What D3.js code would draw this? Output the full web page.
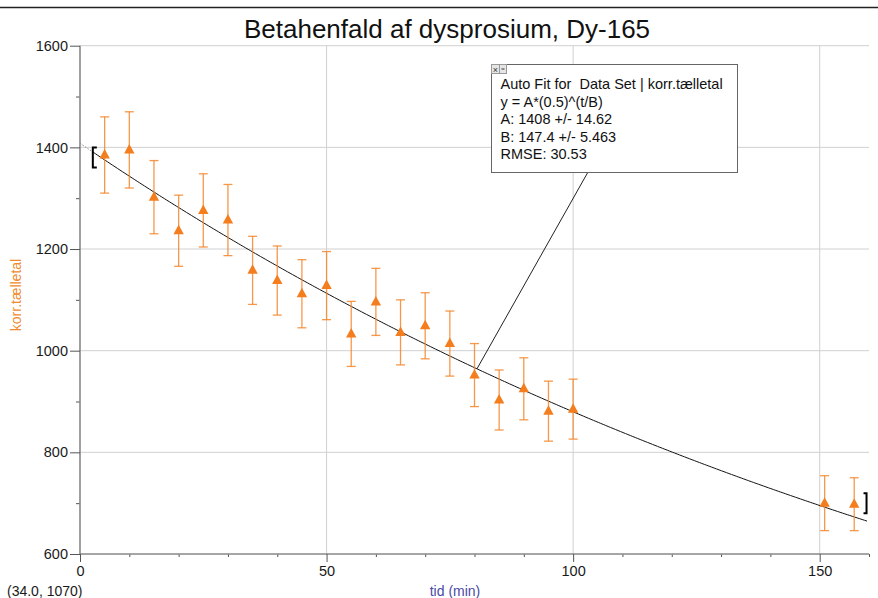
<!DOCTYPE html>
<html>
<head>
<meta charset="utf-8">
<script src="https://cdn.jsdelivr.net/npm/d3@7"></script>
<style>
html,body{margin:0;padding:0;background:#fff;}
svg{display:block;font-family:"Liberation Sans",Arial,sans-serif;}
</style>
</head>
<body>
<svg id="chart" width="878" height="598"></svg>
<script>
// ---- data ----
const time   = [5,10,15,20,25,30,35,40,45,50,55,60,65,70,75,80,85,90,95,100,151,157];
const counts = [1385,1395,1302,1236,1276,1257,1158,1138,1112,1128,1033,1096,1036,1049,1014,952,903,925,881,885,700,698];
const errors = [75,75,72,70,72,70,67,68,67,67,64,66,64,65,64,62,59,61,59,59,54,52];
const fitParams = [1408, 147.4];          // A, B in y = A*(0.5)^(t/B)
const fitRange  = [2.6, 159.5];           // fit region brackets (t)
const bracketY  = [1380, 700];            // bracket centre values
const xMajor = [0, 50, 100, 150];
const yMajor = [600, 800, 1000, 1200, 1400, 1600];
const boxLines = ["Auto Fit for  Data Set | korr.tælletal","y = A*(0.5)^(t/B)","A: 1408 +/- 14.62","B: 147.4 +/- 5.463","RMSE: 30.53"];
const titleText = "Betahenfald af dysprosium, Dy-165";

const svg = d3.select("#chart");
const x = d3.scaleLinear().domain([0,160]).range([80,869]);
const y = d3.scaleLinear().domain([600,1600]).range([554,45.7]);

// top separator line
svg.append("line").attr("x1",0).attr("x2",878).attr("y1",7.5).attr("y2",7.5)
  .attr("stroke","#222").attr("stroke-width",1.5);

// title
svg.append("text").attr("x",447).attr("y",38).attr("text-anchor","middle")
  .attr("font-size",26).attr("fill","#111").text(titleText);

// grid
const grid = svg.append("g");
grid.selectAll("line.h").data(yMajor.filter(d=>d>600)).join("line")
  .attr("x1",x(0)).attr("x2",x(160)).attr("y1",d=>y(d)).attr("y2",d=>y(d))
  .attr("stroke","#d0d0d0").attr("stroke-width",1);
grid.selectAll("line.v").data(xMajor.filter(d=>d>0)).join("line")
  .attr("x1",d=>x(d)).attr("x2",d=>x(d)).attr("y1",y(1600)).attr("y2",y(600))
  .attr("stroke","#d0d0d0").attr("stroke-width",1);

// axes
const yAxis = d3.axisLeft(y).tickValues(yMajor).tickSize(10).tickPadding(2).tickFormat(d3.format("d"));
const yMinor = d3.axisLeft(y).tickValues(d3.range(700,1600,200)).tickSize(4).tickFormat("");
const xAxis = d3.axisBottom(x).tickValues(xMajor).tickSize(8).tickPadding(4).tickFormat(d3.format("d"));
const xMinor = d3.axisBottom(x).tickValues(d3.range(10,161,10).filter(d=>d%50!==0)).tickSize(3).tickFormat("");

function styleAxis(g){
  g.select(".domain").attr("stroke","#888").attr("stroke-width",1.6);
  g.selectAll(".tick line").attr("stroke","#555").attr("stroke-width",1);
  g.selectAll(".tick text").attr("fill","#1a1a1a").attr("font-size",14.5)
    .attr("font-family","'Liberation Sans',Arial,sans-serif");
}
svg.append("g").attr("transform",`translate(${x(0)},0)`).call(yMinor).call(g=>{g.select(".domain").remove();g.selectAll("line").attr("stroke","#555");});
svg.append("g").attr("transform",`translate(0,${y(600)})`).call(xMinor).call(g=>{g.select(".domain").remove();g.selectAll("line").attr("stroke","#555");});
svg.append("g").attr("transform",`translate(${x(0)},0)`).call(yAxis).call(styleAxis)
  .call(g=>g.select(".domain").attr("d",`M0,${y(600)}V${y(1600)}`));
svg.append("g").attr("transform",`translate(0,${y(600)})`).call(xAxis).call(styleAxis)
  .call(g=>g.select(".domain").attr("d",`M${x(0)},0H${x(160)}`));

// axis labels
svg.append("text").attr("transform","translate(21,295) rotate(-90)").attr("text-anchor","middle")
  .attr("font-size",14).attr("fill","#f08a30").text("korr.tælletal");
svg.append("text").attr("x",455).attr("y",596).attr("text-anchor","middle")
  .attr("font-size",14).attr("fill","#4a4aa8").text("tid (min)");
svg.append("text").attr("x",7).attr("y",596)
  .attr("font-size",14).attr("fill","#1a1a1a").text("(34.0, 1070)");

// fit curve
const [A,B] = fitParams;
const f = t => A*Math.pow(0.5, t/B);
const line = d3.line().x(d=>x(d)).y(d=>y(f(d)));
svg.append("path").attr("d",line(d3.range(0,fitRange[0]+0.01,0.2)))
  .attr("fill","none").attr("stroke","#888").attr("stroke-width",1).attr("stroke-dasharray","1.5,1.5");
svg.append("path").attr("d",line(d3.range(fitRange[0],160.01,0.5)))
  .attr("fill","none").attr("stroke","#111").attr("stroke-width",1);

// brackets
const bl = x(fitRange[0]), br = x(fitRange[1]);
svg.append("path").attr("d",`M${bl+4},${y(bracketY[0])-10}H${bl}V${y(bracketY[0])+10}H${bl+4}`)
  .attr("fill","none").attr("stroke","#000").attr("stroke-width",2);
svg.append("path").attr("d",`M${br-3},${y(bracketY[1])-10}H${br}V${y(bracketY[1])+10}H${br-3}`)
  .attr("fill","none").attr("stroke","#000").attr("stroke-width",2);

// error bars
const eg = svg.append("g").attr("stroke","#f5862a").attr("stroke-width",1.3).attr("stroke-opacity",0.85);
time.forEach((t,i)=>{
  const cx = x(t), y1 = y(counts[i]+errors[i]), y2 = y(counts[i]-errors[i]);
  eg.append("line").attr("x1",cx).attr("x2",cx).attr("y1",y1).attr("y2",y2);
  eg.append("line").attr("x1",cx-4.5).attr("x2",cx+4.5).attr("y1",y1).attr("y2",y1);
  eg.append("line").attr("x1",cx-4.5).attr("x2",cx+4.5).attr("y1",y2).attr("y2",y2);
});

// triangle markers
svg.append("g").selectAll("path").data(time).join("path")
  .attr("transform",(d,i)=>`translate(${x(d)},${y(counts[i])})`)
  .attr("d","M0,-6L5.2,3.5L-5.2,3.5Z").attr("fill","#f47d1e");

// annotation box
const bx = 491, by = 64, bw = 246, bh = 108;
const leadT = 80.5;
svg.append("line").attr("x1",x(leadT)).attr("y1",y(f(leadT))).attr("x2",588).attr("y2",by+bh)
  .attr("stroke","#222").attr("stroke-width",1);
svg.append("rect").attr("x",bx+0.5).attr("y",by+0.5).attr("width",bw).attr("height",bh)
  .attr("fill","#fff").attr("stroke","#666").attr("stroke-width",1);
// small icons
svg.append("rect").attr("x",bx+0.5).attr("y",by+0.5).attr("width",8).attr("height",9)
  .attr("fill","#e6e6e6").attr("stroke","#999");
svg.append("text").attr("x",bx+4.5).attr("y",by+8.5).attr("text-anchor","middle").attr("font-size",9).attr("fill","#333").text("×");
svg.append("rect").attr("x",bx+8.5).attr("y",by+0.5).attr("width",7).attr("height",9)
  .attr("fill","#e6e6e6").attr("stroke","#999");
svg.append("line").attr("x1",bx+10.5).attr("x2",bx+13.5).attr("y1",by+5).attr("y2",by+5).attr("stroke","#333");
svg.append("g").selectAll("text").data(boxLines).join("text")
  .attr("x",500.5).attr("y",(d,i)=>89.3+i*17.4)
  .attr("font-size",14.5).attr("fill","#111").style("white-space","pre").text(d=>d);
</script>
</body>
</html>
